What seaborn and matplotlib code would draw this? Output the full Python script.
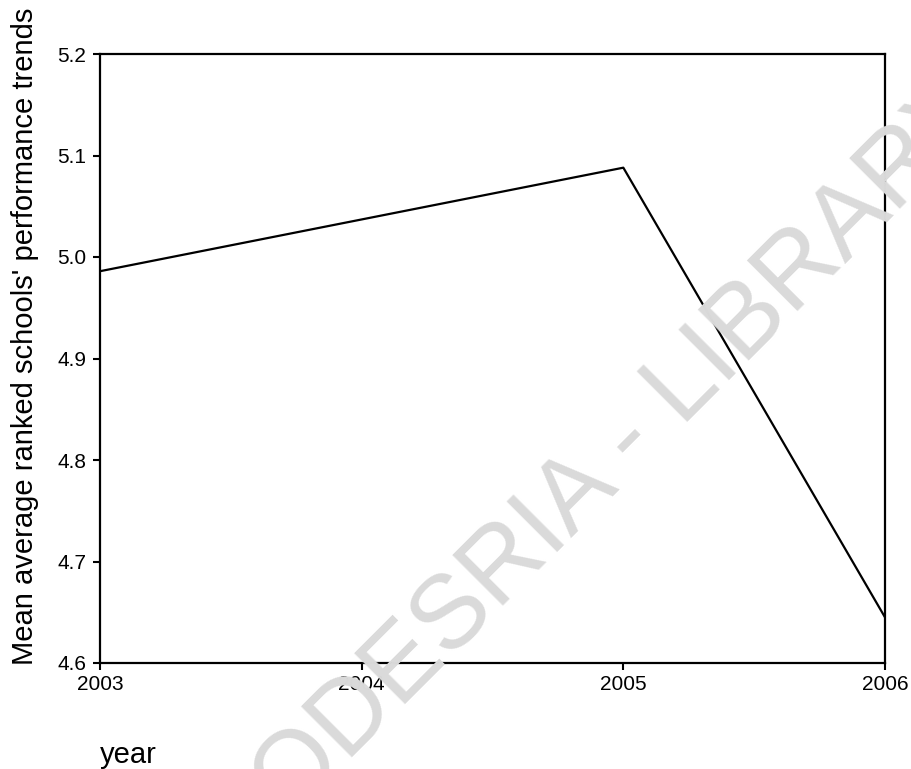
import matplotlib
matplotlib.use("Agg")
import matplotlib.pyplot as plt
import seaborn as sns
import pandas as pd

years = [2003, 2004, 2005, 2006]
mean_scores = [4.986, 5.037, 5.088, 4.645]
y_ticks = [4.6, 4.7, 4.8, 4.9, 5.0, 5.1, 5.2]
x_ticks = [2003, 2004, 2005, 2006]

sns.set_style("ticks")
plt.rcParams['font.family'] = ['Liberation Sans', 'DejaVu Sans']
plt.rcParams['text.color'] = 'black'

df = pd.DataFrame({"year": years, "score": mean_scores})

fig = plt.figure(figsize=(9.11, 7.69), dpi=100)
ax = fig.add_axes([100/911, 1-663/769, 785/911, 609/769])

# watermark
fig.text(236/911, 1-873/769, "CODESRIA - LIBRARY", rotation=45, fontsize=75,
         color="#dadada", ha="left", va="baseline", rotation_mode="anchor", zorder=0)

sns.lineplot(data=df, x="year", y="score", ax=ax, color="black", linewidth=1.6)
ax.patch.set_alpha(0)

ax.set_xlim(2003, 2006)
ax.set_ylim(4.6, 5.2)
ax.set_xticks(x_ticks)
ax.set_xticklabels([str(v) for v in x_ticks])
ax.set_yticks(y_ticks)
ax.set_yticklabels([f"{v:.1f}" for v in y_ticks])
ax.tick_params(axis="both", direction="out", length=5, width=1.5, labelsize=15,
               colors="black")
ax.tick_params(axis="x", pad=3.5)
ax.tick_params(axis="y", pad=5)
for s in ax.spines.values():
    s.set_visible(True)
    s.set_color("black")
    s.set_linewidth(1.6)
ax.set_xlabel("")
ax.set_ylabel("")

fig.text(25/911, 1-665/769, "Mean average ranked schools' performance trends",
         rotation=90, ha="center", va="bottom", fontsize=21, color="black")
fig.text(100/911, 1-763/769, "year", ha="left", va="baseline", fontsize=21,
         color="black")

fig.savefig("out.png", dpi=100)
